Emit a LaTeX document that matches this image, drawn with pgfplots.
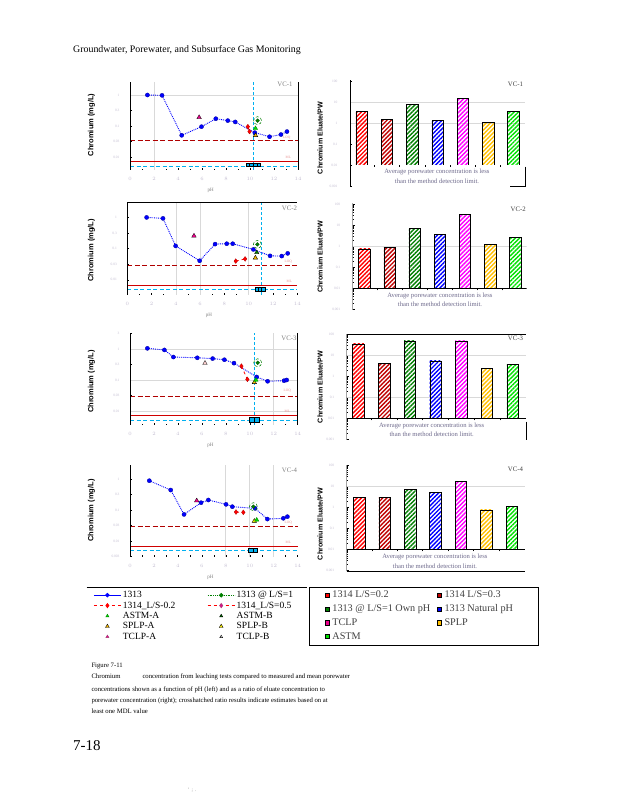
\documentclass[border=0pt]{standalone}
\usepackage{pgfplots}
\pgfplotsset{compat=1.18}
\usepackage{fontspec}
\setmainfont{Liberation Serif}
\setsansfont{Liberation Sans}
\usetikzlibrary{patterns.meta}

\definecolor{cyanpw}{HTML}{00B0F0}
\definecolor{loqred}{HTML}{B00000}
\definecolor{mlred}{HTML}{D00000}
\definecolor{dkgreen}{HTML}{008000}
\definecolor{lime}{HTML}{00E000}
\definecolor{gold}{HTML}{FFC000}
\definecolor{dkred}{HTML}{C00000}
\definecolor{tickgray}{HTML}{C4BED2}
\definecolor{avgtext}{HTML}{6E6A8C}
\definecolor{lblpink}{HTML}{E89090}

\pgfplotsset{
  /pgfplots/myLeftPanel/.style={scale only axis, xmin=0, xmax=14,
    axis line style={draw=none},
    xtick={0,2,...,14}, minor x tick num=1,
    ytick={0.001,0.00316,0.01,0.0316,0.1,0.316,1,3.16},
    yticklabels={0.001,0.003,0.01,0.03,0.1,0.3,1,3},
    xtick pos=bottom, ytick pos=left, tick align=inside,
    major tick length=2pt, minor tick length=1.3pt,
    tick style={black, line width=0.5pt},
    tick label style={font=\fontsize{3.5}{4}\selectfont, text=tickgray},
    xticklabel style={yshift=-4pt}, yticklabel style={xshift=-7pt},
    xlabel={pH}, xlabel style={font=\fontsize{5}{5}\selectfont, text=gray, at={(axis description cs:0.48,0)}, anchor=north, yshift=-15pt},
    clip=false},
  /pgfplots/myFramePanel/.style={scale only axis, xmin=0, xmax=1,
    axis line style={draw=none}, xtick=\empty,
    ytick={0.001,0.01,0.1,1,10,100}, yticklabels={0.001,0.01,0.1,1,10,100},
    ytick pos=left, tick align=inside, major tick length=2.2pt, minor tick length=1.3pt,
    tick style={black, line width=0.5pt},
    yticklabel style={font=\fontsize{3.5}{4}\selectfont, text=tickgray, xshift=-9pt}},
  /pgfplots/myBarPanel/.style={scale only axis, log origin y=infty, ymin=0.01,
    axis line style={draw=none}, ytick=\empty,
    xtick={1.5,2.5,...,6.5}, xticklabels={}, xtick pos=bottom, tick align=outside,
    major tick length=2pt, tick style={black, line width=0.5pt}},
  /pgfplots/plotPW/.style={only marks, mark=square*, mark options={fill=cyanpw, draw=black, line width=0.4pt}},
  /pgfplots/plotA/.style={blue, densely dotted, line width=0.9pt, mark=*, mark size=2.1pt, mark options={solid, fill=blue, draw=blue!60!black, line width=0.3pt}},
  /pgfplots/plotB/.style={red, dashed, line width=0.8pt, mark=diamond*, mark size=2.4pt, mark options={solid, fill=red, draw=red!70!black, line width=0.3pt}},
  /pgfplots/plotLS/.style={only marks, mark=*, mark size=1.9pt, mark options={fill=dkgreen, draw=dkgreen!70!black}},
  /pgfplots/plotRing/.style={only marks, mark=o, mark size=4pt, mark options={densely dashed, draw=dkgreen, line width=0.5pt}},
  /pgfplots/plotASTM/.style={only marks, mark=triangle*, mark size=2.5pt, mark options={fill=lime, draw=lime!60!black, line width=0.3pt}},
  /pgfplots/plotASTMB/.style={only marks, mark=triangle*, mark size=2.5pt, mark options={fill=dkgreen, draw=black, line width=0.3pt}},
  /pgfplots/plotSPLP/.style={only marks, mark=triangle*, mark size=2.5pt, mark options={fill=gold, draw=black, line width=0.4pt}},
  /pgfplots/plotSPLPB/.style={only marks, mark=triangle*, mark size=2.5pt, mark options={fill=yellow, draw=black, line width=0.4pt}},
  /pgfplots/plotTCLP/.style={only marks, mark=triangle*, mark size=2.6pt, mark options={fill=magenta, draw=black, line width=0.3pt}},
  /pgfplots/plotTCLPB/.style={only marks, mark=triangle*, mark size=2.6pt, mark options={fill=pink!70, draw=black, line width=0.3pt}},
  /pgfplots/lineLOQ/.style={draw=loqred, line width=0.9pt, dash pattern=on 5pt off 2.5pt},
  /pgfplots/lineML/.style={draw=mlred, line width=0.9pt},
  /pgfplots/lineCyH/.style={draw=cyanpw, line width=0.9pt, dash pattern=on 4pt off 2.5pt},
  /pgfplots/lineCyV/.style={draw=cyanpw, line width=0.7pt, dash pattern=on 3pt off 2pt},
  /pgfplots/lineGrid/.style={draw=gray!30, line width=0.7pt},
}
\newcommand{\pbar}[3]{\addplot[ybar, bar width=11.5pt, bar shift=0pt, draw=black, line width=0.4pt, pattern={Lines[angle=45,distance=3pt,line width=1.4pt]}, pattern color=#1] coordinates {(#2,#3)};}
\newcommand{\spine}{\draw[black, line width=0.7pt] (rel axis cs:0,0) -- (rel axis cs:0,1);}

\begin{document}
\begin{tikzpicture}
\useasboundingbox (0pt,0pt) rectangle (618pt,800pt);
\fill[white] (0pt,0pt) rectangle (618pt,800pt);
\node[anchor=base west, inner sep=0pt, font=\fontsize{9.9}{11}\selectfont] at (73pt,747pt) {Groundwater, Porewater, and Subsurface Gas Monitoring};

% ---------------- P1 VC-1
\begin{semilogyaxis}[myLeftPanel, anchor=south west, at={(130pt,630pt)}, width=168pt, height=88.3pt, ymin=0.0038, ymax=2.69]
\addplot[lineGrid] coordinates {(2,0.0038)(2,2.69)};
\addplot[lineGrid] coordinates {(0,1)(14,1)};
\addplot[lineLOQ] coordinates {(0,0.033)(14,0.033)};
\addplot[lineML] coordinates {(0,0.0074)(14,0.0074)};
\addplot[lineCyH] coordinates {(0,0.005)(14,0.005)};
\addplot[lineCyV] coordinates {(10.3,0.0038)(10.3,2.69)};
\addplot[plotPW, mark size=1.8pt] coordinates {(9.80,0.0056)(10.10,0.0056)(10.44,0.0056)(10.74,0.0056)};
\addplot[plotA] coordinates {(1.45,1.0)(2.67,0.975)(4.31,0.050)(5.96,0.095)(7.15,0.172)(8.15,0.149)(8.77,0.135)(10.4,0.061)(11.63,0.045)(12.58,0.053)(13.08,0.066)};
\addplot[plotB] coordinates {(9.82,0.095)(9.96,0.066)};
\addplot[plotRing] coordinates {(10.63,0.149)};
\addplot[plotLS] coordinates {(10.63,0.149)};
\addplot[plotSPLP] coordinates {(10.46,0.050)};
\addplot[plotASTM] coordinates {(10.46,0.084)};
\addplot[plotTCLP] coordinates {(5.76,0.19)};
\spine
\draw[black, line width=0.7pt] (rel axis cs:1,0) -- (rel axis cs:1,1);
\end{semilogyaxis}

% ---------------- P2 VC-2
\begin{semilogyaxis}[myLeftPanel, anchor=south west, at={(127.3pt,505pt)}, width=170pt, height=92.7pt, ymin=0.00324, ymax=3.13]
\addplot[lineGrid] coordinates {(4,0.00324)(4,3.13)};
\addplot[lineGrid] coordinates {(6,0.00324)(6,3.13)};
\addplot[lineGrid] coordinates {(10,0.00324)(10,3.13)};
\addplot[lineLOQ] coordinates {(0,0.029)(14,0.029)};
\addplot[lineML] coordinates {(0,0.0067)(14,0.0067)};
\addplot[lineCyH] coordinates {(0,0.0049)(14,0.0049)};
\addplot[lineCyV] coordinates {(11.0,0.00324)(11.0,3.13)};
\addplot[plotPW, mark size=1.8pt] coordinates {(10.69,0.0050)(10.93,0.0050)(11.18,0.0050)};
\addplot[plotA] coordinates {(1.59,1.02)(2.94,0.95)(3.98,0.123)(5.96,0.041)(7.23,0.141)(8.19,0.145)(8.68,0.145)(10.38,0.095)(11.76,0.059)(12.72,0.058)(13.21,0.071)};
\addplot[plotB] coordinates {(8.93,0.040)(9.70,0.047)};
\addplot[plotRing] coordinates {(10.71,0.138)};
\addplot[plotLS] coordinates {(10.71,0.138)};
\addplot[plotSPLP] coordinates {(10.55,0.051)};
\addplot[plotASTMB] coordinates {(10.66,0.076)};
\addplot[plotTCLP] coordinates {(5.49,0.26)};
\spine
\draw[black, line width=0.7pt] (rel axis cs:0,1) -- (rel axis cs:1,1);
\end{semilogyaxis}

% ---------------- P3 VC-3
\begin{semilogyaxis}[myLeftPanel, anchor=south west, at={(130pt,375pt)}, width=167.7pt, height=91.7pt, ymin=0.00355, ymax=3.2]
\addplot[lineGrid] coordinates {(12,0.00355)(12,3.2)};
\addplot[lineGrid] coordinates {(0,1)(14,1)};
\addplot[lineGrid] coordinates {(0,0.1)(14,0.1)};
\addplot[lineGrid] coordinates {(0,0.01)(14,0.01)};
\addplot[lineLOQ] coordinates {(0,0.030)(14,0.030)};
\addplot[lineML] coordinates {(0,0.0074)(14,0.0074)};
\addplot[lineCyH] coordinates {(0,0.005)(14,0.005)};
\addplot[lineCyV] coordinates {(10.38,0.00355)(10.38,3.2)};
\addplot[plotPW, mark size=2.6pt] coordinates {(10.13,0.0054)(10.60,0.0054)};
\addplot[plotA] coordinates {(1.45,1.05)(2.87,0.93)(3.62,0.55)(5.62,0.52)(6.90,0.49)(7.88,0.45)(8.68,0.35)(10.58,0.125)(11.49,0.091)(12.86,0.095)(13.08,0.10)};
\addplot[plotB] coordinates {(9.30,0.28)(9.80,0.105)};
\addplot[plotRing] coordinates {(10.66,0.36)};
\addplot[plotLS] coordinates {(10.66,0.36)};
\addplot[plotSPLP] coordinates {(10.38,0.084)};
\addplot[plotASTM] coordinates {(10.52,0.10)};
\addplot[plotTCLPB] coordinates {(6.26,0.35)};
\spine
\draw[black, line width=0.7pt] (rel axis cs:1,0) -- (rel axis cs:1,1);
\end{semilogyaxis}

% ---------------- P4 VC-4
\begin{semilogyaxis}[myLeftPanel, anchor=south west, at={(130pt,243.3pt)}, width=167.7pt, height=91.7pt, ymin=0.00313, ymax=2.82]
\addplot[lineGrid] coordinates {(8,0.00313)(8,2.82)};
\addplot[lineGrid] coordinates {(10,0.00313)(10,2.82)};
\addplot[lineGrid] coordinates {(12,0.00313)(12,2.82)};
\addplot[lineLOQ] coordinates {(0,0.030)(14,0.030)};
\addplot[lineML] coordinates {(0,0.0069)(14,0.0069)};
\addplot[lineCyH] coordinates {(0,0.005)(14,0.005)};
\addplot[plotPW, mark size=2.2pt] coordinates {(10.07,0.0050)(10.44,0.0050)};
\addplot[plotA] coordinates {(1.61,0.88)(3.40,0.44)(4.51,0.072)(5.93,0.172)(6.54,0.21)(8.02,0.152)(8.54,0.128)(10.44,0.113)(11.47,0.051)(12.80,0.054)(13.14,0.061)};
\addplot[plotB] coordinates {(8.85,0.086)(9.46,0.084)};
\addplot[plotRing] coordinates {(10.3,0.128)};
\addplot[plotLS] coordinates {(10.3,0.128)};
\addplot[plotSPLPB] coordinates {(10.38,0.044)};
\addplot[plotASTM] coordinates {(10.58,0.048)};
\addplot[plotTCLP] coordinates {(5.57,0.20)};
\spine
\end{semilogyaxis}

% ---------------- R1
\begin{semilogyaxis}[myFramePanel, anchor=south west, at={(350pt,614pt)}, width=175pt, height=106pt, ymin=0.001, ymax=112]
\addplot[lineGrid] coordinates {(0,10)(1,10)};
\addplot[lineGrid] coordinates {(0,1)(1,1)};
\spine
\end{semilogyaxis}
\begin{semilogyaxis}[myBarPanel, anchor=south west, at={(350pt,635pt)}, width=175pt, height=85pt, ymax=112, xmin=0.54, xmax=7.46]
\pbar{red}{1}{3.73}
\pbar{dkred}{2}{1.50}
\pbar{dkgreen}{3}{8.0}
\pbar{blue}{4}{1.39}
\pbar{magenta}{5}{15.0}
\pbar{gold}{6}{1.08}
\pbar{lime}{7}{3.73}
\draw[black, line width=0.6pt] (rel axis cs:0,0) -- (rel axis cs:1,0);
\end{semilogyaxis}
\draw[black, line width=0.7pt] (525pt,633.3pt) -- (525pt,614pt) -- (510pt,614pt);

% ---------------- R2
\begin{semilogyaxis}[myFramePanel, anchor=south west, at={(352.7pt,490pt)}, width=174pt, height=106.7pt, ymin=0.00093, ymax=112]
\addplot[lineGrid] coordinates {(0,1)(1,1)};
\spine
\end{semilogyaxis}
\begin{semilogyaxis}[myBarPanel, anchor=south west, at={(352.7pt,511.7pt)}, width=174pt, height=85pt, ymax=112, xmin=0.535, xmax=7.46]
\pbar{red}{1}{0.75}
\pbar{dkred}{2}{0.90}
\pbar{dkgreen}{3}{7.2}
\pbar{blue}{4}{3.73}
\pbar{magenta}{5}{33.4}
\pbar{gold}{6}{1.24}
\pbar{lime}{7}{2.68}
\draw[black, line width=0.6pt] (rel axis cs:0,0) -- (rel axis cs:1,0);
\end{semilogyaxis}

% ---------------- R3
\begin{semilogyaxis}[myFramePanel, anchor=south west, at={(346.7pt,360pt)}, width=179.3pt, height=105.7pt, ymin=0.00093, ymax=100]
\addplot[lineGrid] coordinates {(0,10)(1,10)};
\addplot[lineGrid] coordinates {(0,0.1)(1,0.1)};
\spine
\end{semilogyaxis}
\begin{semilogyaxis}[myBarPanel, anchor=south west, at={(346.7pt,381.7pt)}, width=179.3pt, height=84pt, ymax=100, xmin=0.547, xmax=7.52]
\pbar{red}{1}{34.7}
\pbar{dkred}{2}{4.17}
\pbar{dkgreen}{3}{48}
\pbar{blue}{4}{5.4}
\pbar{magenta}{5}{48}
\pbar{gold}{6}{2.4}
\pbar{lime}{7}{3.7}
\draw[black, line width=0.6pt] (rel axis cs:0,0) -- (rel axis cs:1,0);
\draw[black, line width=0.7pt] (rel axis cs:0,1) -- (rel axis cs:1,1);
\end{semilogyaxis}
\draw[black, line width=0.7pt] (526pt,378.3pt) -- (526pt,360pt);

% ---------------- R4
\begin{semilogyaxis}[myFramePanel, anchor=south west, at={(346.7pt,229pt)}, width=178.3pt, height=106pt, ymin=0.00094, ymax=105]
\addplot[lineGrid] coordinates {(0,10)(1,10)};
\spine
\end{semilogyaxis}
\begin{semilogyaxis}[myBarPanel, anchor=south west, at={(346.7pt,250.7pt)}, width=178.3pt, height=84.3pt, ymax=105, xmin=0.515, xmax=7.52]
\pbar{red}{1}{2.99}
\pbar{dkred}{2}{2.99}
\pbar{dkgreen}{3}{7.2}
\pbar{blue}{4}{5.2}
\pbar{magenta}{5}{17.9}
\pbar{gold}{6}{0.75}
\pbar{lime}{7}{1.16}
\draw[black, line width=0.6pt] (rel axis cs:0,0) -- (rel axis cs:1,0);
\end{semilogyaxis}
\draw[black, line width=0.7pt] (346.7pt,229pt) -- (525pt,229pt);

% ---------------- axis labels and annotations
\foreach \yy in {675,549.7,418.3,289.3}{
  \node[rotate=90, font=\sffamily\bfseries\fontsize{7.5}{8}\selectfont] at (91.5pt,\yy pt) {Chromium (mg/L)};
}
\foreach \yy in {662,543.3,413,276}{
  \node[rotate=90, font=\sffamily\bfseries\fontsize{7.1}{8}\selectfont] at (320pt,\yy pt) {Chromium Eluate/PW};
}
\node[anchor=east, inner sep=0pt, font=\fontsize{6.8}{8}\selectfont, text=gray] at (292.7pt,716pt) {VC-1};
\node[anchor=east, inner sep=0pt, font=\fontsize{6.8}{8}\selectfont, text=gray] at (297.2pt,591.7pt) {VC-2};
\node[anchor=east, inner sep=0pt, font=\fontsize{6.8}{8}\selectfont, text=gray] at (296.7pt,461.7pt) {VC-3};
\node[anchor=east, inner sep=0pt, font=\fontsize{6.8}{8}\selectfont, text=gray] at (297.2pt,330pt) {VC-4};
\node[anchor=east, inner sep=0pt, font=\fontsize{6.8}{8}\selectfont, text=black!75] at (523.3pt,716pt) {VC-1};
\node[anchor=east, inner sep=0pt, font=\fontsize{6.8}{8}\selectfont, text=black!75] at (526pt,591pt) {VC-2};
\node[anchor=east, inner sep=0pt, font=\fontsize{6.8}{8}\selectfont, text=black!75] at (523.3pt,461.7pt) {VC-3};
\node[anchor=east, inner sep=0pt, font=\fontsize{6.8}{8}\selectfont, text=black!75] at (523.3pt,331pt) {VC-4};
\foreach \xx/\yy in {286.7/662.3, 288.3/538.3, 287.3/409, 288.3/277.3}{
  \node[font=\fontsize{3.5}{4}\selectfont, text=lblpink] at (\xx pt,\yy pt) {LOQ};
}
\foreach \xx/\yy in {288.3/642.3, 289.3/519, 287.3/389, 288.3/257.7}{
  \node[font=\fontsize{3.5}{4}\selectfont, text=lblpink] at (\xx pt,\yy pt) {ML};
}
\foreach \xx/\yy in {437/623.6, 440/500.3, 431.7/370.3, 435/238.6}{
  \node[align=center, inner sep=0pt, font=\fontsize{6.6}{9.3}\selectfont, text=avgtext] at (\xx pt,\yy pt) {Average porewater concentration is less\\than the method detection limit.};
}

% ---------------- legends
\draw[black, line width=0.9pt] (86.7pt,212.7pt) -- (306.7pt,212.7pt);
\draw[black, line width=0.9pt] (309.3pt,212.7pt) rectangle (538pt,155pt);

\begin{axis}[at={(0pt,0pt)}, anchor=south west, scale only axis, width=618pt, height=800pt,
  xmin=0, xmax=618, ymin=0, ymax=800, hide axis,
  legend columns=2, legend cell align=left,
  legend style={at={(axis description cs:0.15097,0.26188)}, anchor=north west, draw=none, fill=none, inner sep=0pt,
    font=\fontsize{9.5}{10}\selectfont, nodes={inner sep=0pt, text height=7pt, text depth=2pt},
    row sep=1.4pt, /tikz/every odd column/.append style={column sep=1.6pt},
    /tikz/every even column/.append style={column sep=4.4pt}},
  legend image code/.code={\draw[mark repeat=2,mark phase=2,#1] plot coordinates {(0pt,0pt)(13.5pt,0pt)(27pt,0pt)};}]
\addlegendimage{blue, solid, line width=0.8pt, mark=*, mark size=1.8pt, mark options={fill=blue}}
\addlegendentry{\makebox[80pt][l]{1313}}
\addlegendimage{dkgreen, densely dotted, line width=0.8pt, mark=*, mark size=1.8pt, mark options={solid, fill=dkgreen}}
\addlegendentry{1313 @ L/S=1}
\addlegendimage{red, dashed, line width=0.8pt, mark=diamond*, mark size=2pt, mark options={solid, fill=red}}
\addlegendentry{\makebox[80pt][l]{1314\_L/S-0.2}}
\addlegendimage{red, dashed, line width=0.8pt, mark=diamond*, mark size=2pt, mark options={solid, fill=magenta, draw=magenta!70!black}}
\addlegendentry{1314\_L/S=0.5}
\addlegendimage{only marks, mark=triangle*, mark size=1.8pt, mark options={fill=lime, draw=lime!60!black}}
\addlegendentry{\makebox[80pt][l]{ASTM-A}}
\addlegendimage{only marks, mark=triangle*, mark size=1.8pt, mark options={fill=dkgreen, draw=black}}
\addlegendentry{ASTM-B}
\addlegendimage{only marks, mark=triangle*, mark size=2.2pt, mark options={fill=gold, draw=black}}
\addlegendentry{\makebox[80pt][l]{SPLP-A}}
\addlegendimage{only marks, mark=triangle*, mark size=2.2pt, mark options={fill=yellow, draw=black}}
\addlegendentry{SPLP-B}
\addlegendimage{only marks, mark=triangle*, mark size=1.8pt, mark options={fill=magenta, draw=magenta!60!black}}
\addlegendentry{\makebox[80pt][l]{TCLP-A}}
\addlegendimage{only marks, mark=triangle*, mark size=1.6pt, mark options={fill=white, draw=black}}
\addlegendentry{TCLP-B}
\end{axis}

\begin{axis}[at={(0pt,0pt)}, anchor=south west, scale only axis, width=618pt, height=800pt,
  xmin=0, xmax=618, ymin=0, ymax=800, hide axis,
  legend columns=2, legend cell align=left,
  legend style={at={(axis description cs:0.52508,0.26188)}, anchor=north west, draw=none, fill=none, inner sep=0pt,
    font=\fontsize{10.2}{11}\selectfont, text=black!75, nodes={inner sep=0pt, text height=7.3pt, text depth=2pt},
    row sep=4.4pt, /tikz/every odd column/.append style={column sep=2.8pt},
    /tikz/every even column/.append style={column sep=4.4pt}},
  legend image code/.code={\draw[#1, draw=black, line width=0.5pt] (0pt,-2.2pt) rectangle (4.4pt,2.2pt);}]
\addlegendimage{fill=red}
\addlegendentry{\makebox[100pt][l]{1314 L/S=0.2}}
\addlegendimage{fill=dkred}
\addlegendentry{1314 L/S=0.3}
\addlegendimage{fill=dkgreen}
\addlegendentry{\makebox[100pt][l]{1313 @ L/S=1 Own pH}}
\addlegendimage{fill=blue}
\addlegendentry{1313 Natural pH}
\addlegendimage{fill=magenta}
\addlegendentry{\makebox[100pt][l]{TCLP}}
\addlegendimage{fill=gold}
\addlegendentry{SPLP}
\addlegendimage{fill=lime}
\addlegendentry{\makebox[100pt][l]{ASTM}}
\end{axis}

% ---------------- caption
\node[anchor=base west, inner sep=0pt, font=\fontsize{6.7}{8}\selectfont] at (91.3pt,132pt) {Figure 7-11};
\node[anchor=base west, inner sep=0pt, font=\fontsize{6.7}{8}\selectfont] at (91.3pt,121.5pt) {Chromium};
\node[anchor=base west, inner sep=0pt, font=\fontsize{6.7}{8}\selectfont] at (142.3pt,121.5pt) {concentration from leaching tests compared to measured and mean porewater};
\node[anchor=base west, inner sep=0pt, font=\fontsize{6.7}{8}\selectfont] at (91.3pt,108.5pt) {concentrations shown as a function of pH (left) and as a ratio of eluate concentration to};
\node[anchor=base west, inner sep=0pt, font=\fontsize{6.7}{8}\selectfont] at (91.3pt,97.2pt) {porewater concentration (right); crosshatched ratio results indicate estimates based on at};
\node[anchor=base west, inner sep=0pt, font=\fontsize{6.7}{8}\selectfont] at (91.3pt,86pt) {least one MDL value};
\node[anchor=base west, inner sep=0pt, font=\fontsize{15}{17}\selectfont] at (73pt,49.5pt) {7-18};
\node[inner sep=0pt, font=\fontsize{5}{5}\selectfont, text=gray] at (192pt,10pt) {' \,; \,.};
\end{tikzpicture}
\end{document}
